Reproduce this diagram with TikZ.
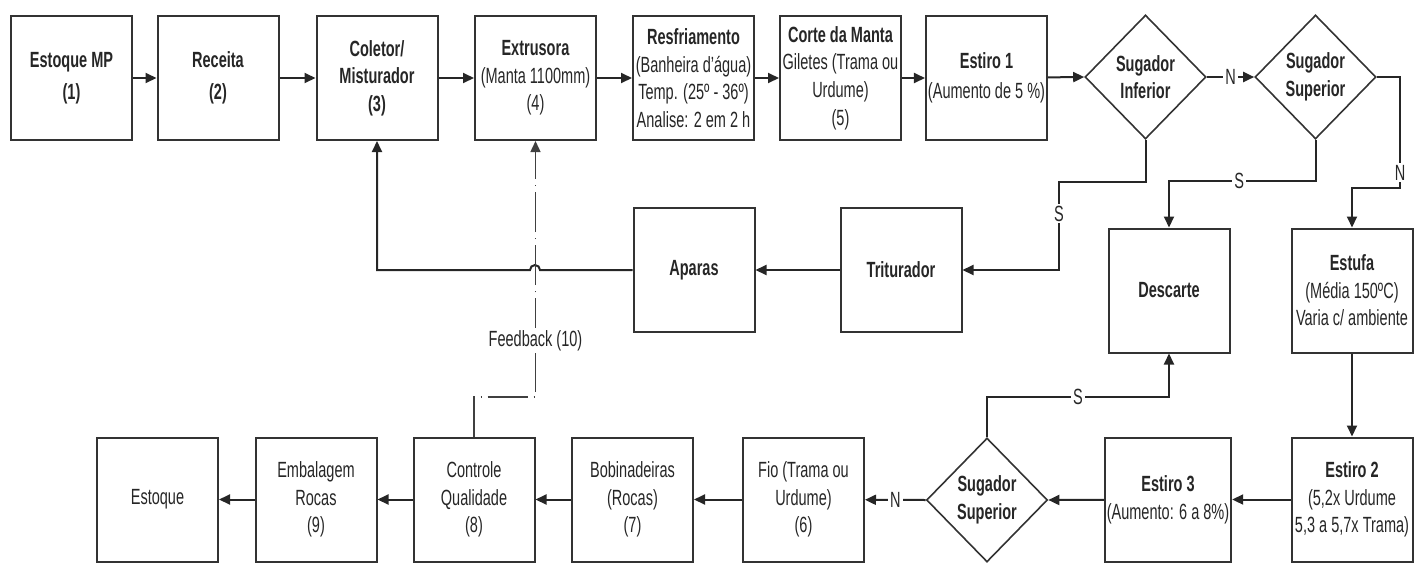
\documentclass[tikz,border=0pt]{standalone}
\usepackage{fontspec}
\setmainfont[FakeStretch=0.66]{Liberation Sans}
\usetikzlibrary{shapes.geometric,arrows.meta}
\begin{document}
\begin{tikzpicture}[x=0.5pt,y=-0.5pt,
  every node/.style={font=\fontsize{11}{13.8}\selectfont, text=black!85},
  box/.style={draw=black!80, line width=1pt, minimum width=60.5pt,
    minimum height=62pt, align=center, inner sep=1pt},
  dec/.style={diamond, draw=black!80, line width=0.8pt, minimum width=60.5pt,
    minimum height=62pt, align=center, inner sep=0pt},
  arr/.style={-{Triangle[length=5.5pt,width=5pt]}, line width=1pt, draw=black!85},
  fb/.style={-{Triangle[length=5.5pt,width=5pt]}, line width=0.7pt, draw=black!75,
    dash pattern=on 20pt off 3pt on 0.6pt off 3pt},
  lbl/.style={fill=white, inner sep=1pt}]
\useasboundingbox (0,0) rectangle (1421,563);

% upper process line
\node[box] (emp) at (71.5,78)  {\textbf{Estoque MP}\\[2pt]\textbf{(1)}};
\node[box] (rec) at (218,78)   {\textbf{Receita}\\[2pt]\textbf{(2)}};
\node[box] (col) at (377,78)   {\textbf{Coletor/}\\\textbf{Misturador}\\\textbf{(3)}};
\node[box] (ext) at (535.5,78) {\textbf{Extrusora}\\(Manta 1100mm)\\(4)};
\node[box] (res) at (693.5,78) {\textbf{Resfriamento}\\(Banheira d'água)\\Temp. (25º - 36º)\\Analise: 2 em 2 h};
\node[box] (cor) at (840.5,78) {\textbf{Corte da Manta}\\Giletes (Trama ou\\Urdume)\\(5)};
\node[box] (es1) at (986.5,78) {\textbf{Estiro 1}\\[1pt](Aumento de 5 \%)};
\node[dec] (si)  at (1145.5,77) {\textbf{Sugador}\\\textbf{Inferior}};
\node[dec] (ss)  at (1315.5,77) {\textbf{Sugador}\\\textbf{Superior}};

% middle line
\node[box] (apa)  at (694,270)    {\textbf{Aparas}};
\node[box] (tri)  at (901,270)    {\textbf{Triturador}};
\node[box] (des)  at (1169,290.5) {\textbf{Descarte}};
\node[box] (estu) at (1352,290.5) {\textbf{Estufa}\\(Média 150ºC)\\Varia c/ ambiente};

% lower process line
\node[box] (est) at (157.5,499.5) {Estoque};
\node[box] (emb) at (316,499.5)   {Embalagem\\Rocas\\(9)};
\node[box] (con) at (474,499.5)   {Controle\\Qualidade\\(8)};
\node[box] (bob) at (632.5,499.5) {Bobinadeiras\\(Rocas)\\(7)};
\node[box] (fio) at (803.5,499.5) {Fio (Trama ou\\Urdume)\\(6)};
\node[dec] (ss2) at (987,500)     {\textbf{Sugador}\\\textbf{Superior}};
\node[box] (es3) at (1168,499.5)  {\textbf{Estiro 3}\\(Aumento: 6 a 8\%)};
\node[box] (es2) at (1352,499.5)  {\textbf{Estiro 2}\\(5,2x Urdume\\5,3 a 5,7x Trama)};

% bend points
\coordinate (s1)  at (1059,182);
\coordinate (s2)  at (1169,181);
\coordinate (n1)  at (1400,188);
\coordinate (s3)  at (1169,397);
\coordinate (fb1) at (535.5,397);

% upper flow
\draw[arr] (emp) -- (rec);
\draw[arr] (rec) -- (col);
\draw[arr] (col) -- (ext);
\draw[arr] (ext) -- (res);
\draw[arr] (res) -- (cor);
\draw[arr] (cor) -- (es1);
\draw[arr] (es1) -- (si.west);
\draw[arr] (si.east) -- node[lbl]{N} (ss.west);
\draw[arr] (ss.east) -| node[pos=0.93,lbl]{N} (n1) -| (estu.north);
\draw[arr] (si.south) |- (s1) |- node[pos=0.18,lbl]{S} (tri.east);
\draw[arr] (ss.south) |- node[pos=0.76,lbl]{S} (s2) -- (des.north);

% recycling loop
\draw[arr] (tri) -- (apa);
\draw[arr] (apa.west) -- (540,270) arc[start angle=0,end angle=180,radius=2.5pt] -| (col.south);

% lower flow
\draw[arr] (estu.south) -- (es2.north);
\draw[arr] (es2) -- (es3);
\draw[arr] (es3) -- (ss2.east);
\draw[arr] (ss2.west) -- node[lbl]{N} (fio);
\draw[arr] (ss2.north) |- node[pos=0.75,lbl]{S} (s3) -- (des.south);
\draw[arr] (fio) -- (bob);
\draw[arr] (bob) -- (con);
\draw[arr] (con) -- (emb);
\draw[arr] (emb) -- (est);

% quality feedback
\draw[fb] (con.north) |- (fb1) -- node[pos=0.22,lbl]{Feedback (10)} (ext.south);
\end{tikzpicture}
\end{document}
